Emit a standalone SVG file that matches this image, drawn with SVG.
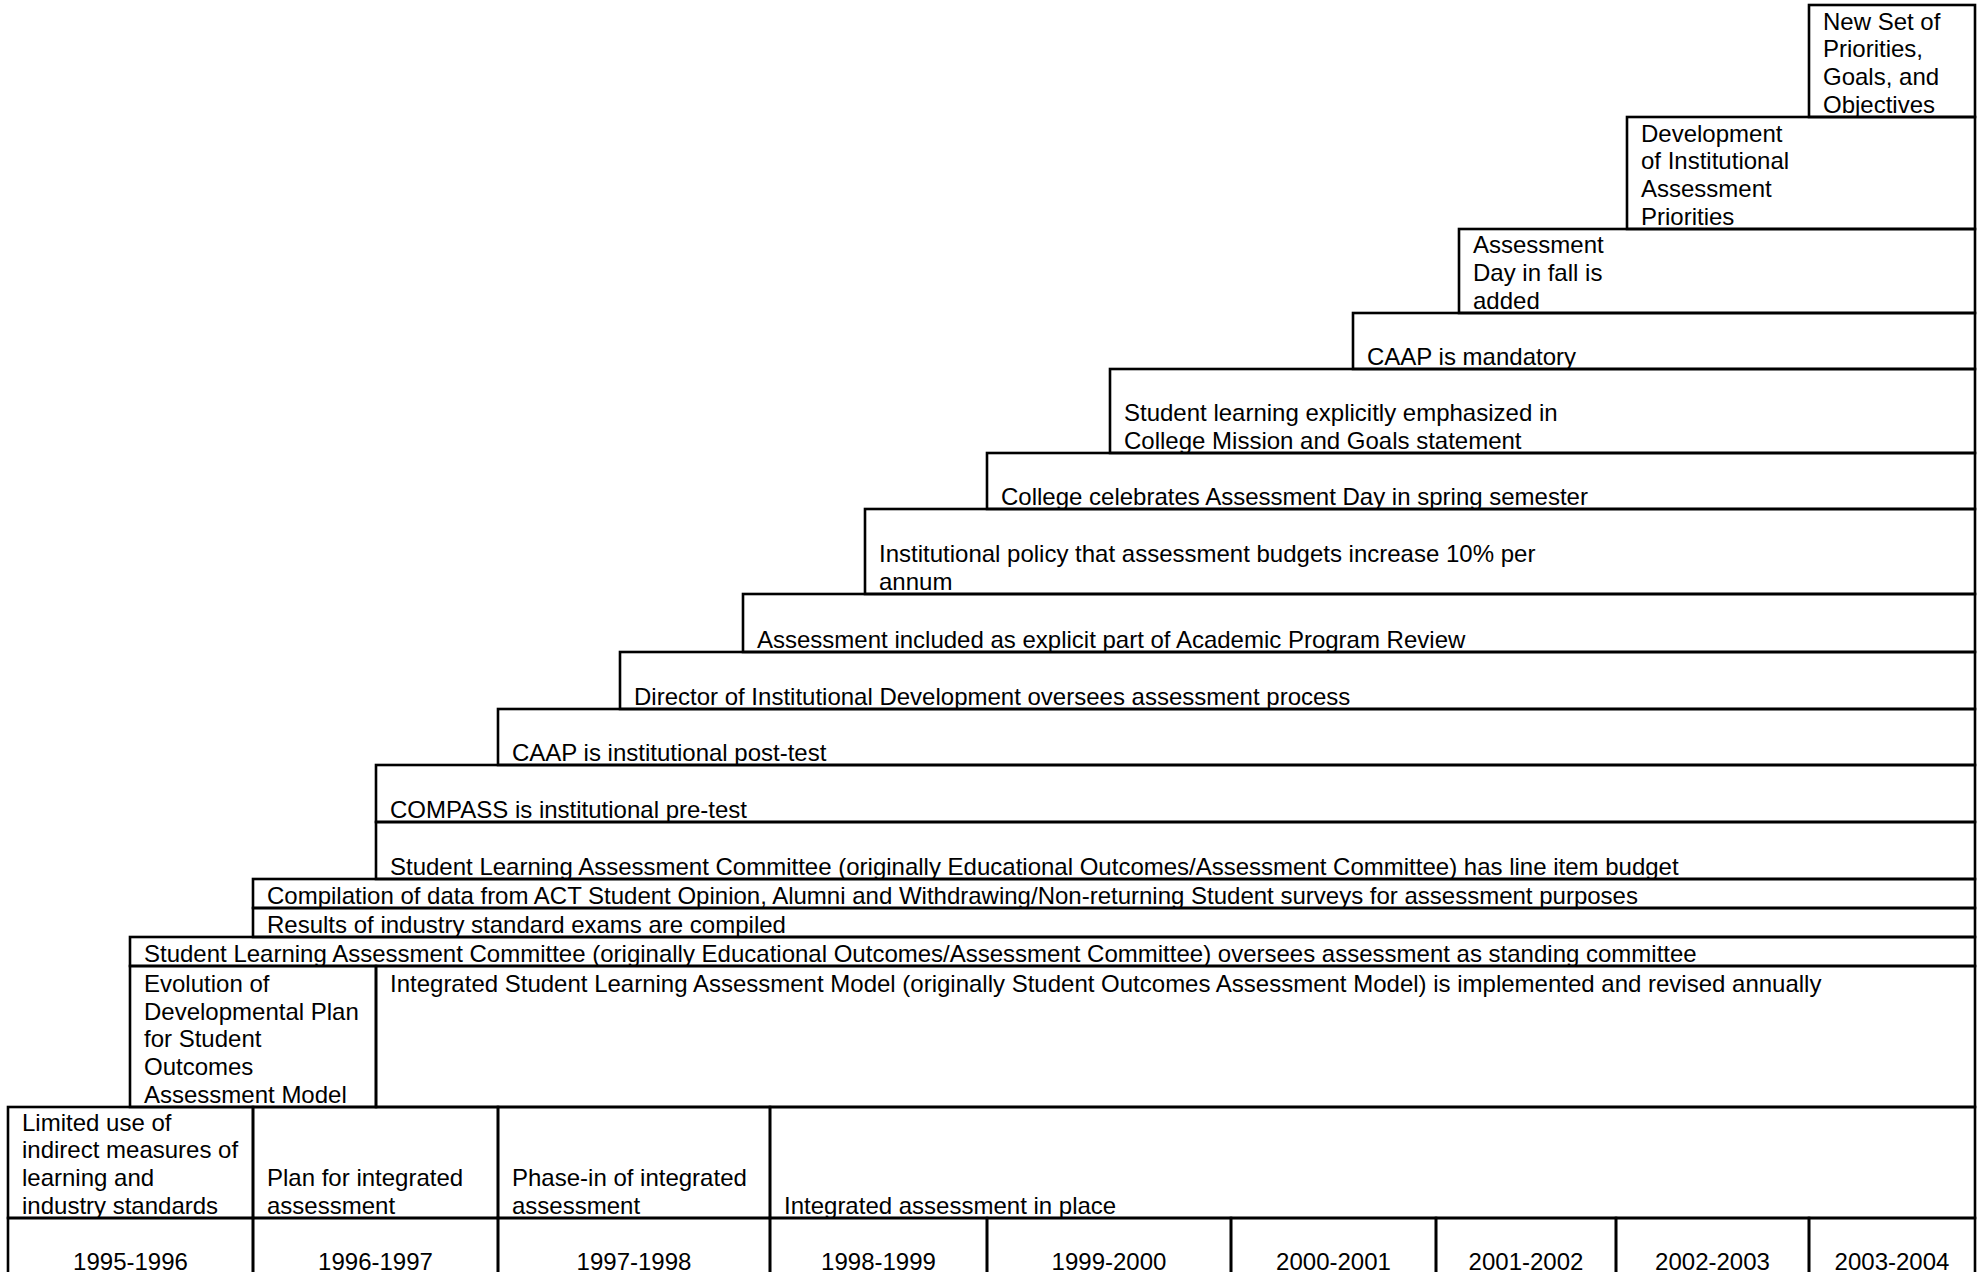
<svg xmlns="http://www.w3.org/2000/svg" width="1977" height="1272" viewBox="0 0 1977 1272">
<style>
rect{fill:none;stroke:#000;stroke-width:2.6}
text{font-family:"Liberation Sans",Arial,sans-serif;font-size:24px;fill:#000}
.c{text-anchor:middle}
</style>
<rect x="0" y="0" width="1977" height="1272" style="fill:#fff;stroke:none"/>
<g id="new-set"><rect x="1809" y="5" width="166" height="112"/>
<text x="1823"><tspan y="29.7">New Set of</tspan><tspan x="1823" y="57.3">Priorities,</tspan><tspan x="1823" y="84.9">Goals, and</tspan><tspan x="1823" y="112.5">Objectives</tspan></text></g>
<g id="development"><rect x="1627" y="117" width="348" height="112"/>
<text x="1641"><tspan y="141.7">Development</tspan><tspan x="1641" y="169.3">of Institutional</tspan><tspan x="1641" y="196.9">Assessment</tspan><tspan x="1641" y="224.5">Priorities</tspan></text></g>
<g id="assessment-day-fall"><rect x="1459" y="229" width="516" height="84"/>
<text x="1473"><tspan y="253.3">Assessment</tspan><tspan x="1473" y="280.9">Day in fall is</tspan><tspan x="1473" y="308.5">added</tspan></text></g>
<g id="caap-mandatory"><rect x="1353" y="313" width="622" height="56"/>
<text x="1367" y="364.5">CAAP is mandatory</text></g>
<g id="student-learning-emphasized"><rect x="1110" y="369" width="865" height="84"/>
<text x="1124"><tspan y="420.9">Student learning explicitly emphasized in</tspan><tspan x="1124" y="448.5">College Mission and Goals statement</tspan></text></g>
<g id="assessment-day-spring"><rect x="987" y="453" width="988" height="56"/>
<text x="1001" y="504.5">College celebrates Assessment Day in spring semester</text></g>
<g id="budget-policy"><rect x="865" y="509" width="1110" height="85"/>
<text x="879"><tspan y="561.9">Institutional policy that assessment budgets increase 10% per</tspan><tspan x="879" y="589.5">annum</tspan></text></g>
<g id="program-review"><rect x="743" y="594" width="1232" height="58"/>
<text x="757" y="647.5">Assessment included as explicit part of Academic Program Review</text></g>
<g id="director"><rect x="620" y="652" width="1355" height="57"/>
<text x="634" y="704.5">Director of Institutional Development oversees assessment process</text></g>
<g id="caap-post-test"><rect x="498" y="709" width="1477" height="56"/>
<text x="512" y="760.5">CAAP is institutional post-test</text></g>
<g id="compass"><rect x="376" y="765" width="1599" height="57"/>
<text x="390" y="817.5">COMPASS is institutional pre-test</text></g>
<g id="slac-budget"><rect x="376" y="822" width="1599" height="57"/>
<text x="390" y="874.5">Student Learning Assessment Committee (originally Educational Outcomes/Assessment Committee) has line item budget</text></g>
<g id="compilation"><rect x="253" y="879" width="1722" height="29"/>
<text x="267" y="903.5">Compilation of data from ACT Student Opinion, Alumni and Withdrawing/Non-returning Student surveys for assessment purposes</text></g>
<g id="results"><rect x="253" y="908" width="1722" height="29"/>
<text x="267" y="932.5">Results of industry standard exams are compiled</text></g>
<g id="slac-standing"><rect x="130" y="937" width="1845" height="29"/>
<text x="144" y="961.5">Student Learning Assessment Committee (originally Educational Outcomes/Assessment Committee) oversees assessment as standing committee</text></g>
<g id="evolution"><rect x="130" y="966" width="246" height="141"/>
<text x="144"><tspan y="992.1">Evolution of</tspan><tspan x="144" y="1019.7">Developmental Plan</tspan><tspan x="144" y="1047.3">for Student</tspan><tspan x="144" y="1074.9">Outcomes</tspan><tspan x="144" y="1102.5">Assessment Model</tspan></text></g>
<g id="integrated-model"><rect x="376" y="966" width="1599" height="141"/>
<text x="390" y="992.1">Integrated Student Learning Assessment Model (originally Student Outcomes Assessment Model) is implemented and revised annually</text></g>
<g id="limited-use"><rect x="8" y="1107" width="245" height="111"/>
<text x="22"><tspan y="1130.7">Limited use of</tspan><tspan x="22" y="1158.3">indirect measures of</tspan><tspan x="22" y="1185.9">learning and</tspan><tspan x="22" y="1213.5">industry standards</tspan></text></g>
<g id="plan"><rect x="253" y="1107" width="245" height="111"/>
<text x="267"><tspan y="1185.9">Plan for integrated</tspan><tspan x="267" y="1213.5">assessment</tspan></text></g>
<g id="phase-in"><rect x="498" y="1107" width="272" height="111"/>
<text x="512"><tspan y="1185.9">Phase-in of integrated</tspan><tspan x="512" y="1213.5">assessment</tspan></text></g>
<g id="in-place"><rect x="770" y="1107" width="1205" height="111"/>
<text x="784" y="1213.5">Integrated assessment in place</text></g>
<g id="years">
<g id="y1995"><rect x="8" y="1218" width="245" height="70"/><text class="c" x="130.5" y="1269.5">1995-1996</text></g>
<g id="y1996"><rect x="253" y="1218" width="245" height="70"/><text class="c" x="375.5" y="1269.5">1996-1997</text></g>
<g id="y1997"><rect x="498" y="1218" width="272" height="70"/><text class="c" x="634" y="1269.5">1997-1998</text></g>
<g id="y1998"><rect x="770" y="1218" width="217" height="70"/><text class="c" x="878.5" y="1269.5">1998-1999</text></g>
<g id="y1999"><rect x="987" y="1218" width="244" height="70"/><text class="c" x="1109" y="1269.5">1999-2000</text></g>
<g id="y2000"><rect x="1231" y="1218" width="205" height="70"/><text class="c" x="1333.5" y="1269.5">2000-2001</text></g>
<g id="y2001"><rect x="1436" y="1218" width="180" height="70"/><text class="c" x="1526" y="1269.5">2001-2002</text></g>
<g id="y2002"><rect x="1616" y="1218" width="193" height="70"/><text class="c" x="1712.5" y="1269.5">2002-2003</text></g>
<g id="y2003"><rect x="1809" y="1218" width="166" height="70"/><text class="c" x="1892" y="1269.5">2003-2004</text></g>
</g>
<g id="connectors"/>
</svg>
